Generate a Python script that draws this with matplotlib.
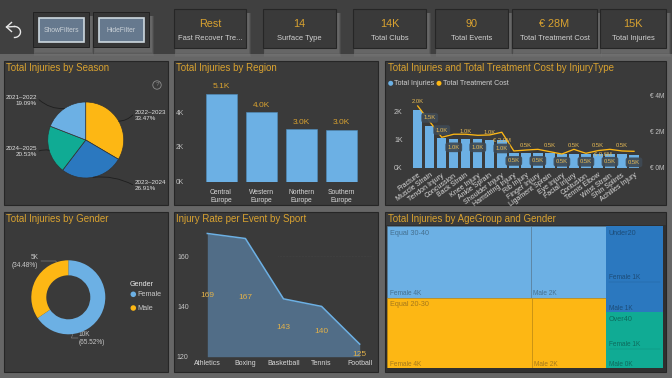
import numpy as np
import matplotlib
matplotlib.use('Agg')
import matplotlib.pyplot as plt
from matplotlib.patches import Rectangle

W, H = 672, 378
plt.rcParams['font.family'] = ['Liberation Sans', 'DejaVu Sans']

BLUE = '#6cb0e4'
YELLOW = '#fdb714'
DARKBLUE = '#2b78bf'
TEAL = '#10ab94'
PANEL = '#3a3a3a'
GOLD = '#d9a230'
TXT = '#e2e2e2'

# KPI cards
kpi_values = ['Rest', '14', '14K', '90', '€ 28M', '15K']
kpi_labels = ['Fast Recover Tre...', 'Surface Type', 'Total Clubs', 'Total Events',
              'Total Treatment Cost', 'Total Injuries']

# season pie
seasons = ['2022–2023', '2023–2024', '2024–2025', '2021–2022']
season_pct = [33.47, 26.91, 20.53, 19.09]

# region bars
regions = ['Central\nEurope', 'Western\nEurope', 'Northern\nEurope', 'Southern\nEurope']
region_injuries = [5050, 4000, 3010, 2970]
region_labels = ['5.1K', '4.0K', '3.0K', '3.0K']

# injury type combo
injury_types = ['Fracture', 'Muscle Strain', 'Tendon Injury', 'Concussion', 'Back Strain',
                'Knee Injury', 'Ankle Sprain', 'Shoulder Injury', 'Hamstring Injury', 'Rib Injury',
                'Finger Injury', 'Ligament Sprain', 'Eye Injury', 'Facial Injury', 'Contusion',
                'Tennis Elbow', 'Wrist Strain', 'Shin Splints', 'Achilles Injury']
injury_counts = [2.04, 1.49, 1.04, 1.01, 1.01, 1.0, 0.99, 0.98, 0.53, 0.52,
                 0.51, 0.51, 0.5, 0.5, 0.5, 0.49, 0.48, 0.49, 0.46]
injury_cost = [3.43, 2.56, 1.69, 1.86, 1.86, 1.8, 1.82, 1.97, 0.93, 0.98,
               1.02, 0.89, 0.76, 1.02, 0.8, 0.95, 1.02, 0.93, 0.91]
cost_labels = ['€ 2.0M', '€ 0.6M']

# gender donut
genders = ['Female', 'Male']
gender_pct = [65.52, 34.48]
gender_text = ['10K\n(65.52%)', '5K\n(34.48%)']

# injury rate by sport
sports = ['Athletics', 'Boxing', 'Basketball', 'Tennis', 'Football']
sport_rate = [169, 167, 143, 140, 125]

# treemap
age_groups = ['Equal 30-40', 'Equal 20-30', 'Under20', 'Over40']
age_female = [3.98, 3.97, 1.24, 0.81]
age_male = [2.09, 2.05, 0.67, 0.43]
female_text = ['Female 4K', 'Female 4K', 'Female 1K', 'Female 1K']
male_text = ['Male 2K', 'Male 2K', 'Male 1K', 'Male 0K']
age_colors = [BLUE, YELLOW, DARKBLUE, TEAL]
age_inks = ['#44708f', '#a4781c', '#1c4c78', '#0d6b5d']

fig = plt.figure(figsize=(W / 100, H / 100), dpi=100, facecolor='#404040')


def px_axes(x0, y0, x1, y1):
    ax = fig.add_axes([x0 / W, 1 - y1 / H, (x1 - x0) / W, (y1 - y0) / H])
    ax.patch.set_alpha(0)
    return ax


bg = fig.add_axes([0, 0, 1, 1])
bg.set_xlim(0, W)
bg.set_ylim(H, 0)
bg.axis('off')


def soft_shadow(x0, y0, x1, y1, spread=5, color='#7c7c7c'):
    for s in range(spread, 0, -1):
        bg.add_patch(Rectangle((x0 + 2 - s * 0.3, y0 + 4), x1 - x0 + s * 0.9, y1 - y0 + s,
                               fc=color, ec='none', alpha=0.2))


def panel(x0, y0, x1, y1, title):
    bg.add_patch(Rectangle((x0, y0), x1 - x0, y1 - y0, fc=PANEL, ec='#262626', lw=0.8))
    bg.text(x0 + 2.5, y0 + 7, title, color=GOLD, fontsize=7.0, va='center', ha='left')


# gutters
bg.add_patch(Rectangle((0, 54), W, H - 54, fc='#666666', ec='none'))
bg.add_patch(Rectangle((0, 0), W, 54, fc='#404040', ec='none'))

# back arrow
theta = np.linspace(-np.pi * 0.5, np.pi * 0.5, 30)
bg.plot(14.5 + 6 * np.cos(theta), 32 - 5.5 * np.sin(theta), color='#e8e8e8', lw=1.0)
bg.plot([11.5, 6.5, 11.5], [22.5, 27, 31.5], color='#e8e8e8', lw=1.0)
bg.plot([6.5, 14.5], [27, 26.5], color='#e8e8e8', lw=1.0)

# filter buttons
for x0, x1, name in [(33, 89, 'ShowFilters'), (93, 149, 'HideFilter')]:
    soft_shadow(x0, 12, x1, 47)
    bg.add_patch(Rectangle((x0, 12), x1 - x0, 35, fc='#363636', ec='#222222', lw=0.7))
    bg.add_patch(Rectangle((x0 + 5.5, 18), x1 - x0 - 11, 24, fc='#66798e', ec='#cdd8df', lw=1.2))
    bg.text((x0 + x1) / 2, 30, name, color='#c9d0d6', fontsize=4.9, ha='center', va='center')

# kpi cards
card_x = [(174, 246), (263, 336), (353, 426), (435, 508), (512, 597), (600, 666)]
for (x0, x1), val, lab in zip(card_x, kpi_values, kpi_labels):
    soft_shadow(x0, 9, x1, 48)
    bg.add_patch(Rectangle((x0, 9), x1 - x0, 39, fc=PANEL, ec='#262626', lw=0.8))
    bg.text((x0 + x1) / 2, 24, val, color=GOLD, fontsize=7.8, ha='center', va='center')
    bg.text((x0 + x1) / 2, 38, lab, color='#d2d2d2', fontsize=5.4, ha='center', va='center')

panel(4, 61, 168, 205, 'Total Injuries by Season')
panel(174, 61, 378, 205, 'Total Injuries by Region')
panel(385, 61, 666, 205, 'Total Injuries and Total Treatment Cost by InjuryType')
panel(4, 212, 168, 372, 'Total Injuries by Gender')
panel(174, 212, 378, 372, 'Injury Rate per Event by Sport')
panel(385, 212, 666, 372, 'Total Injuries by AgeGroup and Gender')

# --- season pie
ax = px_axes(47.7, 102, 123.7, 178)
wedges, _ = ax.pie(season_pct, colors=[YELLOW, DARKBLUE, TEAL, BLUE], startangle=90, counterclock=False,
                   radius=1, wedgeprops=dict(edgecolor='#333333', linewidth=0.5))
ax.set_xlim(-1, 1)
ax.set_ylim(-1, 1)
pie_text = [(134.7, 116, 'left', -0.2), (134.7, 185.7, 'left', 0.15),
            (37, 152, 'right', -0.15), (37, 100.7, 'right', 0.2)]
for w, s, p, (tx, ty, ha, rad) in zip(wedges, seasons, season_pct, pie_text):
    mid = np.deg2rad((w.theta1 + w.theta2) / 2)
    bg.text(tx, ty, f'{s}\n{p:.2f}%', color=TXT, fontsize=4.5, ha=ha, va='center', linespacing=1.25)
    ax.annotate('', xy=(np.cos(mid), np.sin(mid)), xycoords='data',
                xytext=(tx + (-2 if ha == 'left' else 2), ty - 1), textcoords=bg.transData,
                arrowprops=dict(arrowstyle='-', color='#1e1e1e', lw=0.6, connectionstyle=f'arc3,rad={rad}',
                                shrinkA=0, shrinkB=0), annotation_clip=False)
bg.add_patch(plt.Circle((157, 85), 4.2, fc='none', ec='#8c8c8c', lw=0.6))
bg.text(157, 85, '?', color='#8c8c8c', fontsize=4.5, ha='center', va='center')

# --- region bars
ax = px_axes(201, 85, 361.5, 181.7)
xpos = np.arange(len(regions))
ax.bar(xpos, region_injuries, width=0.77, color=BLUE, edgecolor='#4f8dbd', linewidth=0.4)
ax.set_xlim(-0.5, 3.5)
ax.set_ylim(0, 96.7 / 17.35 * 1000)
ax.set_xticks(xpos, regions)
ax.set_yticks([0, 2000, 4000], ['0K', '2K', '4K'])
ax.tick_params(length=0, labelsize=4.9, colors='#d8d8d8', pad=5.5)
ax.tick_params(axis='y', pad=12, colors='#bdbdbd')
for t in ax.get_xticklabels():
    t.set_linespacing(1.15)
for s in ax.spines.values():
    s.set_visible(False)
for x, v, lab in zip(xpos, region_injuries, region_labels):
    ax.text(x, v + 420, lab, color=GOLD, fontsize=6, ha='center', va='center')

# --- injury type combo
ax = px_axes(411.7, 95, 640, 167.7)
xpos = np.arange(len(injury_types))
ax.bar(xpos, injury_counts, width=0.78, color=BLUE, linewidth=0)
ax.set_xlim(-0.5, 18.5)
ax.set_ylim(0, 72.7 / 28.3)
ax.set_xticks(xpos, injury_types, rotation=36, ha='right', rotation_mode='anchor')
ax.set_yticks([0, 1, 2], ['0K', '1K', '2K'])
ax.tick_params(length=0, labelsize=5, colors='#dcdcdc', pad=3)
ax.tick_params(axis='y', labelsize=5, pad=6.5, colors='#c4c4c4')
for s in ax.spines.values():
    s.set_visible(False)
ax2 = ax.twinx()
ax2.patch.set_alpha(0)
ax2.plot(xpos, injury_cost, color=YELLOW, lw=0.95)
ax2.set_ylim(0, 72.7 / 18)
ax2.set_yticks([0, 2, 4], ['€ 0M', '€ 2M', '€ 4M'])
ax2.tick_params(length=0, labelsize=4.7, colors='#c4c4c4', pad=7)
for s in ax2.spines.values():
    s.set_visible(False)
# label height per bar (injury axis), those with a box sit inside the bar
label_y = [2.35, 1.76, 1.33, 0.72, 1.27, 0.72, 1.25, 0.68, 0.24, 0.78,
           0.24, 0.78, 0.21, 0.78, 0.21, 0.78, 0.21, 0.78, 0.19]
boxed = [1, 2, 3, 5, 7, 8, 10, 12, 14, 16, 18]
for i, (v, y) in enumerate(zip(injury_counts, label_y)):
    box = None
    if i in boxed:
        box = dict(boxstyle='round,pad=0.4,rounding_size=0.4', fc='#3f4a55', ec='none', alpha=0.92)
    ax2.text(i, y * 28.3 / 18, f'{v:.1f}K', color='#e8bb55', fontsize=4.2, ha='center', va='center',
             bbox=box, zorder=5)
ax2.text(7, 1.49, cost_labels[0], color='#e8bb55', fontsize=4.2, ha='center', va='center', zorder=6)
ax2.text(15.4, 0.76, cost_labels[1], color='#e8bb55', fontsize=4.2, ha='center', va='center', zorder=6)
bg.scatter([390.7, 439], [83.3, 83.3], s=13, c=[BLUE, YELLOW], linewidths=0)
bg.text(394, 83.3, 'Total Injuries', color='#cfcfcf', fontsize=5.1, va='center')
bg.text(443, 83.3, 'Total Treatment Cost', color='#cfcfcf', fontsize=5.1, va='center')

# --- gender donut
ax = px_axes(31.3, 260.3, 105.3, 334.3)
wedges, _ = ax.pie(gender_pct, colors=[BLUE, YELLOW], startangle=90, counterclock=False, radius=1,
                   wedgeprops=dict(width=15 / 37, linewidth=0))
ax.set_xlim(-1, 1)
ax.set_ylim(-1, 1)
bg.text(79, 339, gender_text[0], color='#c8c8c8', fontsize=4.7, ha='left', va='center', linespacing=1.2,
        multialignment='left')
bg.text(38.5, 261.5, gender_text[1], color='#c8c8c8', fontsize=4.7, ha='right', va='center', linespacing=1.2,
        multialignment='right')
ax.annotate('', xy=(0.12, -1.0), xytext=(78, 338), textcoords=bg.transData,
            arrowprops=dict(arrowstyle='-', color='#8a8a8a', lw=0.4, connectionstyle='angle,angleA=0,angleB=70',
                            shrinkA=0, shrinkB=0), annotation_clip=False)
ax.annotate('', xy=(-0.32, 0.95), xytext=(41, 261), textcoords=bg.transData,
            arrowprops=dict(arrowstyle='-', color='#8a8a8a', lw=0.4, connectionstyle='angle,angleA=0,angleB=120',
                            shrinkA=0, shrinkB=0), annotation_clip=False)
bg.text(130, 284, 'Gender', color='#e8e8e8', fontsize=5.2, va='center')
bg.scatter([133.3, 133.3], [294.3, 308], s=16, c=[BLUE, YELLOW], linewidths=0)
for y, g in zip([294.3, 308], genders):
    bg.text(137, y, g, color='#c8c8c8', fontsize=5.2, va='center')

# --- sport area
ax = px_axes(188, 225, 379, 356.7)
xpos = np.arange(len(sports))
ax.fill_between(xpos, sport_rate, 120, color='#516d87', linewidth=0)
ax.plot(xpos, sport_rate, color=BLUE, lw=1.1)
ax.set_xlim((188 - 207.3) / 38.1, (379 - 207.3) / 38.1)
ax.set_ylim(120, 120 + 131.7 / 2.515)
ax.set_xticks(xpos, sports)
ax.set_yticks([120, 140, 160], ['120', '140', '160'])
ax.tick_params(length=0, labelsize=5, colors='#d8d8d8', pad=2.5)
ax.tick_params(axis='y', pad=-0.5, colors='#c4c4c4')
for s in ax.spines.values():
    s.set_visible(False)
for x, v in zip(xpos, sport_rate):
    ax.text(x, (v + 120) / 2 + (0 if v > 130 else -1.5), str(v), color='#e0b04a', fontsize=6, ha='center', va='center')
ax.plot([1.85, 4.3], [160, 160], color='#4a4a4a', lw=0.4, ls=':')

# --- treemap, layout worked out from the values
bg.add_patch(Rectangle((385.5, 225), 280, 146.5, fc='#2f2f2f', ec='none'))
ax = px_axes(387.3, 226.3, 663, 368.3)
ax.set_xlim(0, 1)
ax.set_ylim(1, 0)
ax.axis('off')
totals = np.array(age_female) + np.array(age_male)
left_share = totals[:2].sum() / totals.sum()
ytop = 0.0
for i in range(2):
    h = totals[i] / totals[:2].sum()
    fw = left_share * age_female[i] / totals[i]
    edge = '#5b7f99' if i == 0 else '#c48f14'
    ax.add_patch(Rectangle((0, ytop), fw, h, fc=age_colors[i], ec=edge, lw=0.4))
    ax.add_patch(Rectangle((fw, ytop), left_share - fw, h, fc=age_colors[i], ec=edge, lw=0.4))
    ax.text(0.01, ytop + 0.05, age_groups[i], color=age_inks[i], fontsize=5.2, va='center')
    ax.text(0.01, ytop + h - 0.03, female_text[i], color=age_inks[i], fontsize=4.7, va='center')
    ax.text(fw + 0.008, ytop + h - 0.03, male_text[i], color=age_inks[i], fontsize=4.7, va='center')
    ytop += h
ytop = 0.0
for i in range(2, 4):
    h = totals[i] / totals[2:].sum()
    fh = h * age_female[i] / totals[i]
    ax.add_patch(Rectangle((left_share, ytop), 1 - left_share, fh, fc=age_colors[i], ec='none'))
    ax.add_patch(Rectangle((left_share, ytop + fh), 1 - left_share, h - fh, fc=age_colors[i], ec='none'))
    ax.plot([left_share + 0.01, 0.99], [ytop + fh, ytop + fh], color=age_inks[i], lw=0.3, alpha=0.5)
    ax.text(left_share + 0.01, ytop + 0.05, age_groups[i], color=age_inks[i], fontsize=5.2, va='center')
    ax.text(left_share + 0.01, ytop + fh - 0.03, female_text[i], color=age_inks[i], fontsize=4.7, va='center')
    ax.text(left_share + 0.01, ytop + h - 0.03, male_text[i], color=age_inks[i], fontsize=4.7, va='center')
    ytop += h

fig.savefig('out.png', dpi=100, facecolor=fig.get_facecolor())
